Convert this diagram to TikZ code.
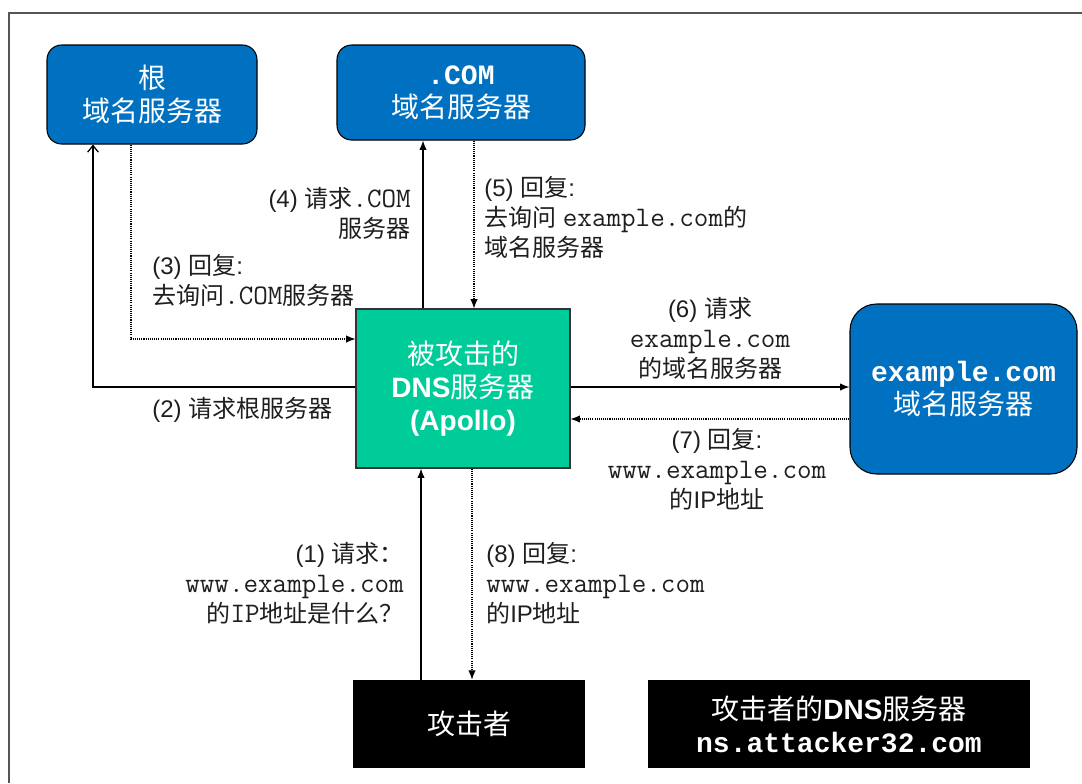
\documentclass[tikz,border=0pt]{standalone}
\usepackage{fontspec}
\setmainfont{Liberation Sans}
\newfontfamily\cjk{Noto Sans CJK SC}
\newfontfamily\monobold{Liberation Mono}
\newcommand\cn[1]{{\cjk #1}}
% serif typewriter for the step labels, enlarged to a Courier-like advance
\newcommand\mn[1]{{\fontsize{21.2}{22.5}\selectfont\ttfamily #1}}
% heavy typewriter inside the boxes
\newcommand\mb[1]{{\monobold\bfseries #1}}
\usetikzlibrary{arrows.meta}
\definecolor{srvblue}{RGB}{0,112,192}
\definecolor{victim}{RGB}{0,204,153}
\definecolor{framegray}{RGB}{85,85,85}
\definecolor{lbltext}{RGB}{30,30,30}

\begin{document}
\begin{tikzpicture}[x=0.75pt,y=-0.75pt,
  boxfont/.style={font=\fontsize{21}{24.5}\selectfont},
  server/.style={draw=black, line width=0.8pt, fill=srvblue, text=white,
    rounded corners=11pt, inner sep=0pt, align=center, boxfont},
  victimbox/.style={draw=black!80, line width=0.8pt, fill=victim, text=white,
    inner sep=0pt, align=center, boxfont},
  blackbox/.style={fill=black, text=white, inner sep=0pt, align=center, boxfont},
  lbl/.style={font=\fontsize{18}{22.5}\selectfont, inner sep=0pt, text=lbltext},
  req/.style={line width=0.9pt, -{Latex[length=7pt,width=5.5pt]}},
  rep/.style={line width=0.8pt, dash pattern=on 0.8pt off 0.8pt,
    -{Latex[length=7pt,width=5.5pt]}},
  reqopen/.style={line width=0.9pt, -{Straight Barb[length=5pt,width=8pt]}}
]
\useasboundingbox (0,0) rectangle (1082,783);

% outer frame (top and left edges)
\draw[framegray, line width=1.5pt] (9,783) -- (9,13) -- (1082,13);

% servers
\node[server, minimum width=157.5pt, minimum height=74.25pt] (root) at (152,94.5)
  {\cn{根}\\\cn{域名服务器}};
\node[server, minimum width=186pt, minimum height=71.25pt] (com) at (461,92.5)
  {\mb{.COM}\\\cn{域名服务器}};
\node[server, rounded corners=20pt, minimum width=170.25pt, minimum height=127.5pt]
  (exdns) at (963.5,389) {\mb{example.com}\\\cn{域名服务器}};
\node[victimbox, minimum width=160.5pt, minimum height=119.25pt] (apollo) at (463,388.5)
  {\cn{被攻击的}\\\textbf{DNS}\cn{服务器}\\\textbf{(Apollo)}};
\node[blackbox, minimum width=174pt, minimum height=66pt] (attacker) at (469,724)
  {\cn{攻击者}};
\node[blackbox, minimum width=286.5pt, minimum height=66pt] (attdns) at (839,724)
  {\cn{攻击者的}\textbf{DNS}\cn{服务器}\\\mb{ns.attacker32.com}};

% connector positions
\coordinate (c1) at (421,0);
\coordinate (c2) at (93,387);
\coordinate (c3) at (131,339);
\coordinate (c4) at (423,0);
\coordinate (c5) at (474,0);
\coordinate (c6) at (0,387);
\coordinate (c7) at (0,419);
\coordinate (c8) at (472,0);

% queries (solid) and replies (dotted)
\draw[req] (attacker.north -| c1) -- (apollo.south -| c1);
\draw[reqopen] (apollo.west |- c2) -| (root.south -| c2);
\draw[rep] (root.south -| c3) |- (apollo.west |- c3);
\draw[req] (apollo.north -| c4) -- (com.south -| c4);
\draw[rep] (com.south -| c5) -- (apollo.north -| c5);
\draw[req] (apollo.east |- c6) -- (exdns.west |- c6);
\draw[rep] (exdns.west |- c7) -- (apollo.east |- c7);
\draw[rep] (apollo.south -| c8) -- (attacker.north -| c8);

% step labels
\node[lbl, align=right, anchor=east] (l1) at (404,583)
  {(1) \cn{请求：}\\\mn{www.example.com}\\\cn{的}\mn{IP}\cn{地址是什么？}};
\node[lbl, align=left, anchor=west] (l2) at (152,410)
  {(2) \cn{请求根服务器}};
\node[lbl, align=left, anchor=west] (l3) at (152,280)
  {(3) \cn{回复}:\\\cn{去询问}\mn{.COM}\cn{服务器}};
\node[lbl, align=right, anchor=east] (l4) at (411,213)
  {(4) \cn{请求}\mn{.COM}\\\cn{服务器}};
\node[lbl, align=left, anchor=west] (l5) at (484,217)
  {(5) \cn{回复}:\\\cn{去询问} \mn{example.com}\cn{的}\\\cn{域名服务器}};
\node[lbl, align=center] (l6) at (710,338)
  {(6) \cn{请求}\\\mn{example.com}\\\cn{的域名服务器}};
\node[lbl, align=center] (l7) at (717,469)
  {(7) \cn{回复}:\\\mn{www.example.com}\\\cn{的}IP\cn{地址}};
\node[lbl, align=left, anchor=west] (l8) at (486,583)
  {(8) \cn{回复}:\\\mn{www.example.com}\\\cn{的}IP\cn{地址}};
\end{tikzpicture}
\end{document}
